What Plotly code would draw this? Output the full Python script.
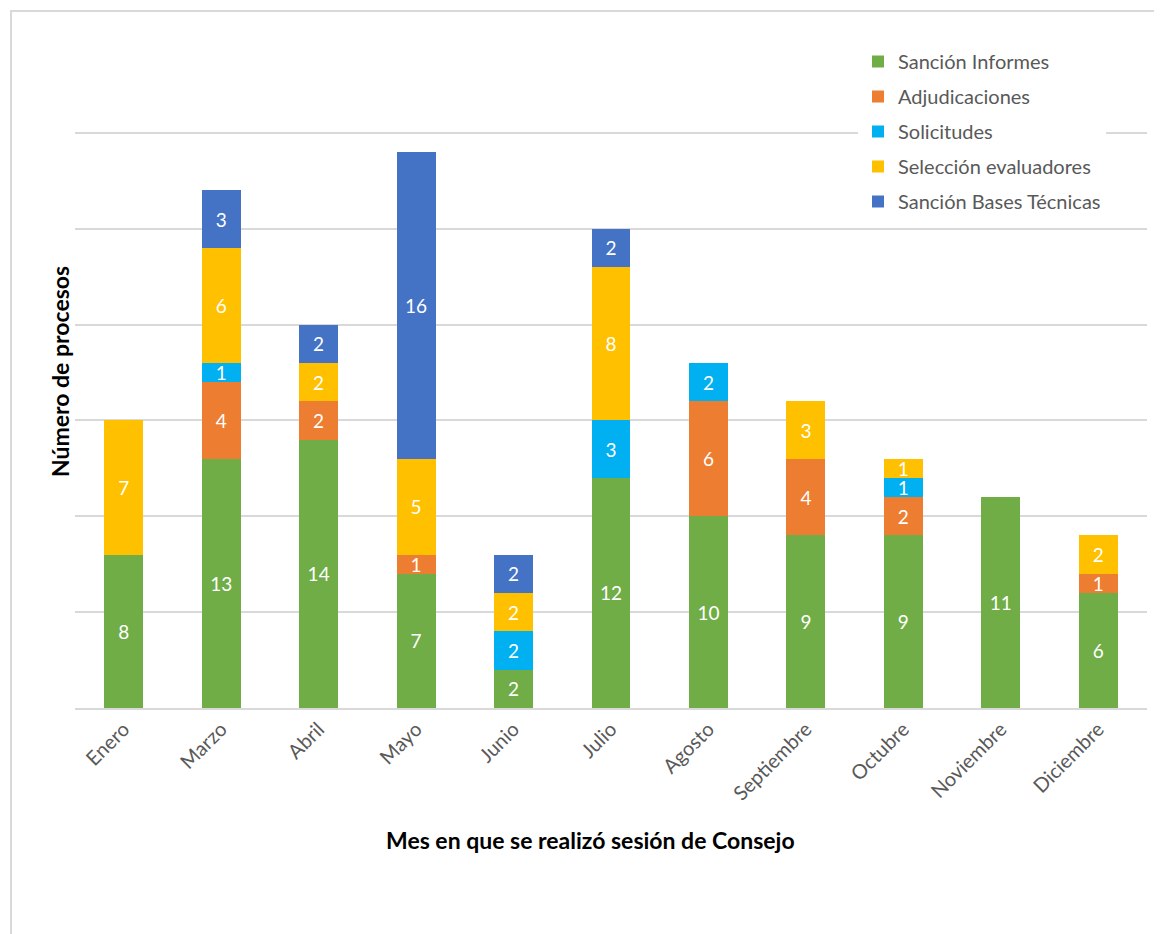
import plotly.graph_objects as go

months = ["Enero", "Marzo", "Abril", "Mayo", "Junio", "Julio", "Agosto",
          "Septiembre", "Octubre", "Noviembre", "Diciembre"]
sancion_informes = [8, 13, 14, 7, 2, 12, 10, 9, 9, 11, 6]
adjudicaciones = [0, 4, 2, 1, 0, 0, 6, 4, 2, 0, 1]
solicitudes = [0, 1, 0, 0, 2, 3, 2, 0, 1, 0, 0]
seleccion_evaluadores = [7, 6, 2, 5, 2, 8, 0, 3, 1, 0, 2]
sancion_bases = [0, 3, 2, 16, 2, 2, 0, 0, 0, 0, 0]

series = [
    ("Sanción Informes", sancion_informes, "#70AD47"),
    ("Adjudicaciones", adjudicaciones, "#ED7D31"),
    ("Solicitudes", solicitudes, "#00B0F0"),
    ("Selección evaluadores", seleccion_evaluadores, "#FFC000"),
    ("Sanción Bases Técnicas", sancion_bases, "#4472C4"),
]

FONT = "Lato"
fig = go.Figure()
for i, (name, vals, color) in enumerate(series):
    yv = [v if v else None for v in vals]
    tv = [str(v) if v else "" for v in vals]
    fig.add_trace(go.Bar(
        name=name, x=months, y=yv, text=tv,
        legendgroup="g%d" % i,
        marker=dict(color=color, line=dict(width=0)),
        textposition="inside", insidetextanchor="middle",
        constraintext="none", textangle=0,
        textfont=dict(color="white", size=19, family=FONT),
        hoverinfo="x+y+name",
    ))

# page body has an 8px margin, so offset everything
OFF = 8
W, H = 1162, 934
L, R, T, B = 75 - OFF, 15 + OFF, 37 - OFF, 226 + OFF
pw, ph = W - L - R, H - T - B

def px(x):
    return (x - OFF - L) / pw

def py(y):
    return (H - B - (y - OFF)) / ph

fig.update_layout(
    width=W, height=H,
    barmode="stack", bargap=0.6,
    paper_bgcolor="white", plot_bgcolor="white",
    margin=dict(l=L, r=R, t=T, b=B, autoexpand=False),
    font=dict(family=FONT, color="#595959"),
    showlegend=True,
    legend=dict(
        x=px(858), y=py(42), xanchor="left", yanchor="top",
        bgcolor="white", traceorder="grouped",
        font=dict(size=20, color="#595959", family=FONT),
        itemwidth=30, tracegroupgap=6,
    ),
    xaxis=dict(
        tickangle=-45, tickfont=dict(size=20, color="#595959", family=FONT),
        showline=True, linecolor="#D9D9D9", linewidth=1.5,
        ticks="", showgrid=False, automargin=False,
    ),
    yaxis=dict(
        range=[0, 35], dtick=5, showticklabels=False,
        showgrid=True, gridcolor="#D9D9D9", gridwidth=1.5,
        zeroline=False, ticks="", automargin=False,
    ),
    annotations=[
        dict(text="<b>Mes en que se realizó sesión de Consejo</b>",
             xref="paper", yref="paper", x=px(590), y=py(840),
             showarrow=False, xanchor="center", yanchor="middle",
             font=dict(size=23, color="black", family=FONT)),
        dict(text="<b>Número de procesos</b>",
             xref="paper", yref="paper", x=px(60), y=py(372),
             showarrow=False, xanchor="center", yanchor="middle",
             textangle=-90,
             font=dict(size=23, color="black", family=FONT)),
    ],
    shapes=[
        dict(type="rect", xref="paper", yref="paper",
             x0=px(11), y0=py(H + 40), x1=px(W + 40), y1=py(11),
             line=dict(color="#D9D9D9", width=2), fillcolor="rgba(0,0,0,0)",
             layer="below"),
    ],
)

fig.write_html("out.html")
